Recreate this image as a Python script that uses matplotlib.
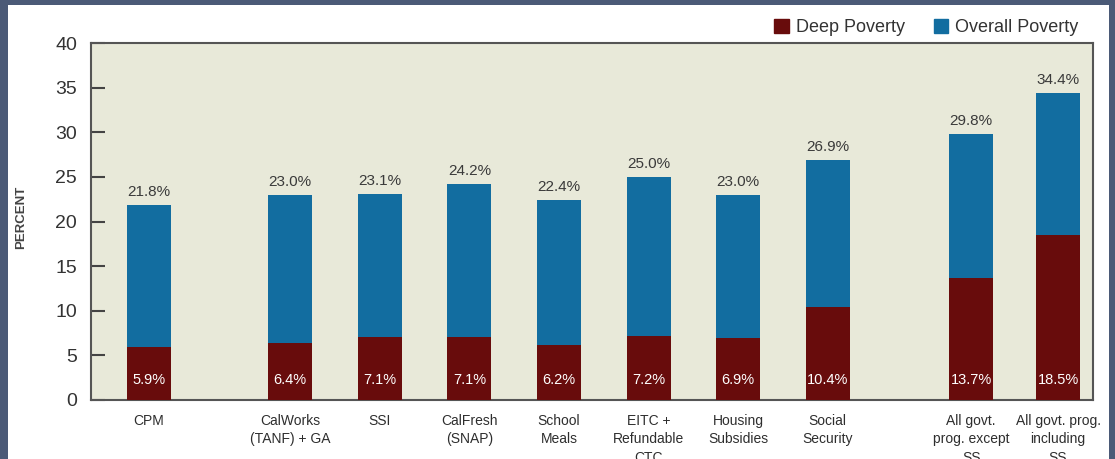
import matplotlib
matplotlib.use("Agg")
import matplotlib.pyplot as plt
from matplotlib.patches import Patch, Rectangle
import numpy as np

# data
programs = ['CPM', 'CalWorks\n(TANF) + GA', 'SSI', 'CalFresh\n(SNAP)', 'School\nMeals',
            'EITC +\nRefundable\nCTC', 'Housing\nSubsidies', 'Social\nSecurity',
            'All govt.\nprog. except\nSS', 'All govt. prog.\nincluding\nSS']
overall = [21.8, 23.0, 23.1, 24.2, 22.4, 25.0, 23.0, 26.9, 29.8, 34.4]
deep = [5.9, 6.4, 7.1, 7.1, 6.2, 7.2, 6.9, 10.4, 13.7, 18.5]

# extra gaps after CPM and after Social Security
gaps = [0, 1.58, 1, 1, 1, 1, 1, 1, 1.6, 0.97]
xpos = np.cumsum(gaps)

c_deep = '#680c0c'
c_over = '#126da0'
txt = '#3a3a3a'
plt.rcParams['font.family'] = ['Liberation Sans', 'DejaVu Sans']

fig = plt.figure(figsize=(11.15, 4.59), dpi=100)
fig.patch.set_facecolor('#4b5a77')
fig.patches.append(Rectangle((8 / 1115, 0), 1101 / 1115, 454 / 459,
                             transform=fig.transFigure, facecolor='white',
                             edgecolor='none', zorder=-5))

ax = fig.add_axes([91 / 1115, 59 / 459, 1002 / 1115, 357 / 459])
ax.set_facecolor('#e8e9d9')

ax.bar(xpos, overall, width=0.49, color=c_over, zorder=2)
ax.bar(xpos, deep, width=0.49, color=c_deep, zorder=3)

for x, o, d in zip(xpos, overall, deep):
    ax.text(x, o + 1.45, f'{o:.1f}%', ha='center', va='center',
            fontsize=11, color=txt, zorder=4)
    ax.text(x, 2.25, f'{d:.1f}%', ha='center', va='center',
            fontsize=10.5, color='white', zorder=4)

ax.set_xlim(-0.644, 10.54)
ax.set_ylim(0, 40)
ax.set_yticks(range(0, 41, 5))
ax.set_xticks(xpos)
ax.set_xticklabels(programs, fontsize=10, color='#2e2e2e', linespacing=1.4)
ax.tick_params(axis='x', length=0, pad=10)
ax.tick_params(axis='y', direction='in', length=10, width=1.5, color='#444444',
               labelsize=14, labelcolor='#333333', pad=10)
for s in ax.spines.values():
    s.set_color('#555555')
    s.set_linewidth(1.5)

fig.text(21 / 1115, 1 - 217 / 459, 'PERCENT', rotation=90, ha='center', va='center',
         fontsize=9.5, fontweight='bold', color='#444444')

handles = [Patch(color=c_deep, label='Deep Poverty'),
           Patch(color=c_over, label='Overall Poverty')]
fig.legend(handles=handles, loc='upper right', bbox_to_anchor=(1095 / 1115, 1 - 3 / 459),
           ncol=2, frameon=False, fontsize=13, handlelength=0.8, handleheight=0.8,
           handletextpad=0.4, columnspacing=1.6, labelcolor='#333333')

fig.savefig('out.png', dpi=100, facecolor=fig.get_facecolor())
